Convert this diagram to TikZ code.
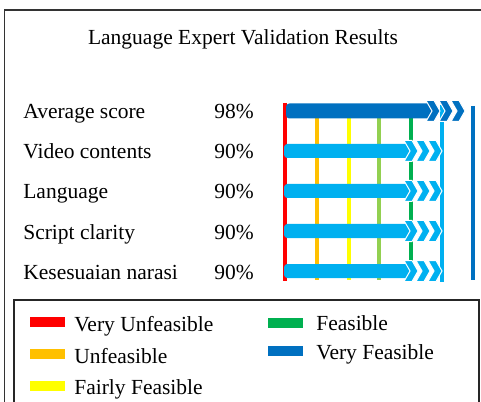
\documentclass[tikz,border=0pt]{standalone}
\usepackage{fontspec}
\setmainfont{Liberation Serif}
\usepackage{xcolor}
\usepackage{tikz}
\usetikzlibrary{positioning}

\definecolor{vunf}{HTML}{FF0000}
\definecolor{unf}{HTML}{FFC000}
\definecolor{fair}{HTML}{FFFF00}
\definecolor{lgreen}{HTML}{92D050}
\definecolor{feas}{HTML}{00B050}
\definecolor{lblue}{HTML}{00B0F0}
\definecolor{vfeas}{HTML}{0070C0}

\tikzset{
  txt/.style={font=\fontsize{12.9}{15}\selectfont, inner sep=0pt, anchor=base west},
  scaleline/.style={line width=2.4pt},
  swatch/.style={minimum width=21pt, minimum height=6.3pt, inner sep=0pt, anchor=west}
}

\begin{document}
\begin{tikzpicture}[x=0.6pt,y=-0.6pt]
\useasboundingbox (0,0) rectangle (481,401);
\clip (0,0) rectangle (481,401);
\def\chev#1#2#3{% x, y centre, colour
  \filldraw[fill=#3,draw=white,line width=0.6pt]
    (#1,#2-10.5) -- ++(8,0) -- ++(6,10.5) -- ++(-6,10.5) -- ++(-8,0) -- ++(6,-10.5) -- cycle;}
% frames
\draw[line width=1pt,black!80] (4.5,10) rectangle (495,420);
\draw[line width=0.9pt,black!85] (14,300) rectangle (479,420);
\node[txt,anchor=base] (title) at (243,45) {Language Expert Validation Results};

% scale lines
\draw[scaleline,vunf] (285,103) -- (285,281);
\draw[scaleline,unf] (317,110) -- (317,280);
\draw[scaleline,fair] (349,110) -- (349,280);
\draw[scaleline,lgreen] (379,110) -- (379,280);
\draw[scaleline,feas] (411,110) -- (411,280);
\draw[scaleline,lblue] (442,105) -- (442,282);
\draw[scaleline,vfeas] (473,106) -- (473,280);

% rows
\node[txt] (avg) at (23,119) {Average score};
\node[txt] (avgp) at (214,119) {98\%};
\fill[vfeas,rounded corners=2pt] (286,103.5) rectangle (432,118.5);
\foreach \x in {426,439,451} {\chev{\x}{111}{vfeas}}

\foreach \y/\name/\lab in {151/video/Video contents,191/lang/Language,231/script/Script clarity,271/narasi/Kesesuaian narasi}{
  \node[txt] (\name) at (23,\y+8) {\lab};
  \node[txt] (\name p) at (214,\y+8) {90\%};
  \fill[lblue,rounded corners=2pt] (284,\y-7) rectangle (410,\y+7);
  \foreach \x in {404,416,428} {\chev{\x}{\y}{lblue}}
}

% legend
\node[swatch,fill=vunf] (sw1) at (30,322) {};
\node[txt] (lg1) at (74,331) {Very Unfeasible};
\node[swatch,fill=unf] (sw2) at (30,354) {};
\node[txt] (lg2) at (74,363) {Unfeasible};
\node[swatch,fill=fair] (sw3) at (30,386) {};
\node[txt] (lg3) at (74,394) {Fairly Feasible};
\node[swatch,fill=feas] (sw4) at (268,323) {};
\node[txt] (lg4) at (316,330) {Feasible};
\node[swatch,fill=vfeas] (sw5) at (268,351) {};
\node[txt] (lg5) at (316,359) {Very Feasible};
\end{tikzpicture}
\end{document}
